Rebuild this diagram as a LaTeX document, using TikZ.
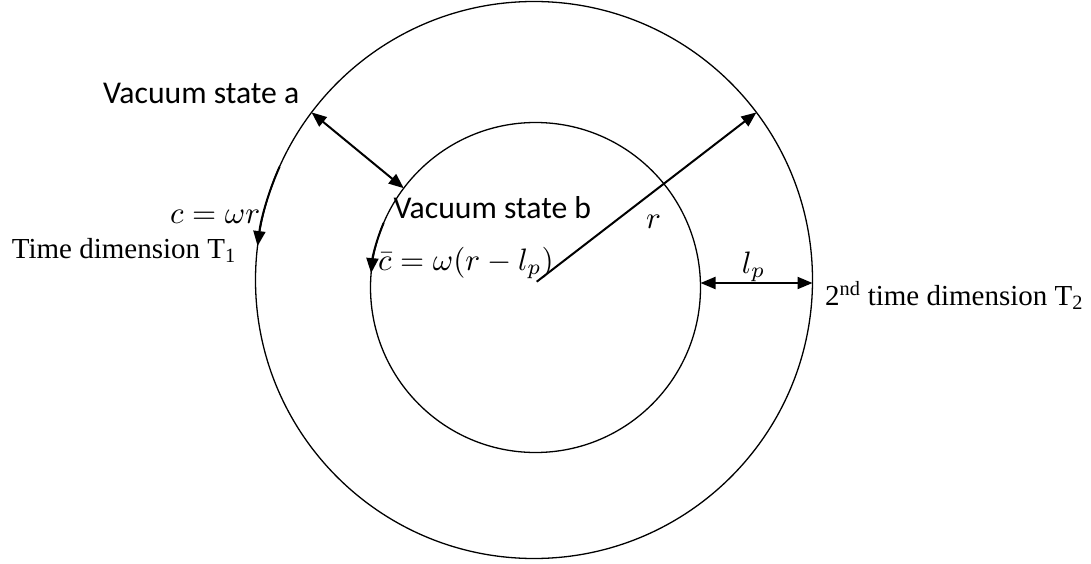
\documentclass[tikz,border=0pt]{standalone}
\usepackage{amsmath}
\usepackage{graphicx}
\usepackage{fontspec}
\newfontfamily\calfont{Carlito}
\newfontfamily\timesfont{Liberation Serif}
\usetikzlibrary{arrows.meta}
\newcommand{\bigmath}[1]{\scalebox{3.1}{$#1$}}
\begin{document}
\begin{tikzpicture}[x=1pt,y=1pt,
  ring/.style={circle,draw,line width=1.3pt,inner sep=0pt,outer sep=0pt},
  arr/.style={line width=2pt,-{Triangle[length=15pt,width=12pt]}},
  darr/.style={line width=2pt,{Triangle[length=15pt,width=12pt]}-{Triangle[length=15pt,width=12pt]}},
  sanslbl/.style={anchor=base west,inner sep=0pt,font=\calfont\fontsize{31.7}{36}\selectfont},
  seriflbl/.style={anchor=base west,inner sep=0pt,font=\timesfont\fontsize{29}{34}\selectfont},
  mathlbl/.style={anchor=base west,inner sep=0pt,font=\fontsize{10}{12}\selectfont}]
\useasboundingbox (0,0) rectangle (1091,563);
\node[ring,minimum size=557pt] (outer) at (534,283) {};
\node[ring,minimum size=330pt] (inner) at (535.5,275.5) {};
\coordinate (rs) at (536.7,281.3);
\coordinate (lprow) at (0,280);
% arrows
\draw[arr] (rs) -- (outer.37);
\draw[darr] (outer.143) -- (inner.143);
\draw[darr] (inner.east |- lprow) -- (outer.east |- lprow);
\draw[arr] (outer.156) arc[start angle=156,end angle=173,radius=278.5pt];
\draw[arr] (inner.157) arc[start angle=157,end angle=175,radius=165pt];
% labels
\node[sanslbl] (va) at (103,459.7) {Vacuum state a};
\node[sanslbl] (vb) at (393.3,344.7) {Vacuum state b};
\node[seriflbl] (t1) at (11.7,305) {Time dimension T\textsubscript{1}};
\node[seriflbl] (t2) at (825,258) {2\textsuperscript{nd} time dimension T\textsubscript{2}};
\node[mathlbl] (ceq) at (170,340) {\bigmath{c=\omega r}};
\node[mathlbl] (cbeq) at (378,293) {\bigmath{\bar{c}=\omega(r-l_p)}};
\node[mathlbl] (rl) at (646,335) {\bigmath{r}};
\node[mathlbl] (lpl) at (741.7,289.7) {\bigmath{l_p}};
\end{tikzpicture}
\end{document}
